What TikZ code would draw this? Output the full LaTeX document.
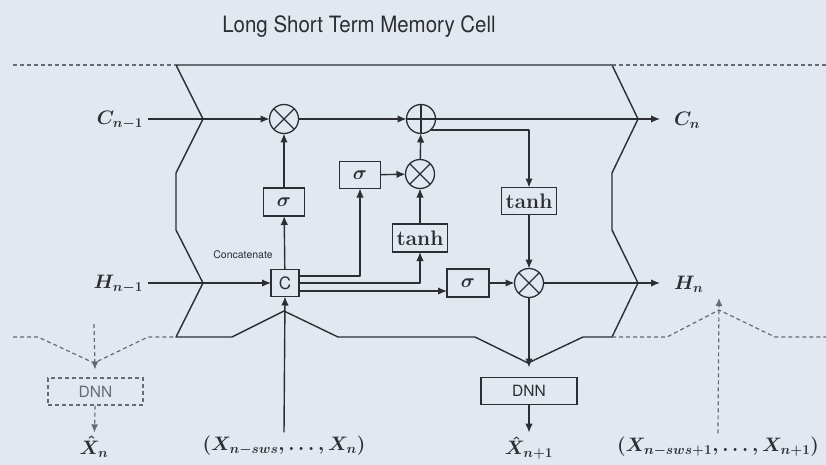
\RequirePackage{fix-cm}
\documentclass[tikz,border=0pt]{standalone}
\usepackage{amsmath}
\usepackage{fontspec}
\setsansfont{TeX Gyre Heros}
\usetikzlibrary{arrows.meta,calc}
\definecolor{bg}{RGB}{226,232,240}
\definecolor{ink}{RGB}{45,45,52}
\definecolor{dashink}{RGB}{105,105,114}
\newcommand\mymathfont{\fontsize{19.5}{23}\selectfont\boldmath}
\newcommand\mytanhfont{\fontsize{21}{24}\selectfont\boldmath}
\begin{document}
\begin{tikzpicture}[x=1pt,y=-1pt,
  wire/.style={draw=ink, line width=1.4pt, line join=round},
  arr/.style={wire, -{Latex[length=9pt,width=7.5pt]}},
  dsh/.style={draw=dashink, line width=1.2pt, dash pattern=on 4pt off 3pt},
  darr/.style={dsh, -{Latex[length=8pt,width=7pt]}},
  opnode/.style={circle, draw=ink, line width=1.3pt, minimum size=29pt, inner sep=0pt, outer sep=0pt},
  fbox/.style={rectangle, draw=ink, line width=1.3pt, inner sep=0pt, outer sep=0pt, text=ink, font=\mymathfont},
  lbl/.style={inner sep=0pt, outer sep=5pt, text=ink, font=\mymathfont},
  blbl/.style={inner sep=0pt, outer sep=4pt, text=ink, font=\mymathfont}]
\fill[bg] (0,0) rectangle (826,465);
\useasboundingbox (0,0) rectangle (826,465);

% title
\node[text=ink, font=\sffamily\fontsize{22.5}{26}\selectfont, xscale=0.91, transform shape] (title) at (359,27) {Long Short Term Memory Cell};

% cell outline
\draw[wire] (176,65) -- (612,65) -- (638,119) -- (612,173) -- (612,230) -- (638,283) -- (612,337)
  -- (583,337) -- (528,363) -- (475,337) -- (338,337) -- (284,311) -- (232,337) -- (176,337)
  -- (203,283) -- (176,230) -- (176,173) -- (203,119) -- cycle;

% dashed neighbours
\draw[dsh] (13,65) -- (176,65);
\draw[dsh] (612,65) -- (826,65);
\draw[dsh] (13,337) -- (38,337) -- (94,363) -- (148,337) -- (176,337);
\draw[dsh] (612,337) -- (667,337) -- (719,310) -- (775,337) -- (826,337);

% operators
\node[opnode] (m1) at (284,119) {};
\node[opnode] (p1) at (421,119) {};
\node[opnode] (m2) at (420,174) {};
\node[opnode] (m3) at (529,283) {};
\foreach \n in {m1,m2,m3}{
  \draw[wire, line width=1.2pt] (\n.north east) -- (\n.south west) (\n.north west) -- (\n.south east);
}
\draw[wire, line width=1.2pt] (p1.north) -- (p1.south) (p1.west) -- (p1.east);

% gate boxes
\node[fbox, minimum width=41pt, minimum height=28pt] (s1) at (284,202) {$\sigma$};
\node[fbox, minimum width=41pt, minimum height=27pt] (s2) at (360,175) {$\sigma$};
\node[fbox, minimum width=42pt, minimum height=28pt] (s3) at (468,283) {$\sigma$};
\node[fbox, minimum width=55pt, minimum height=28pt, font=\mytanhfont] (t1) at (420,238) {$\mathbf{tanh}$};
\node[fbox, minimum width=55pt, minimum height=27pt, font=\mytanhfont] (t2) at (529,201) {$\mathbf{tanh}$};
\node[fbox, minimum width=28pt, minimum height=27pt, font=\sffamily\fontsize{17}{20}\selectfont] (cbox) at (285,283) {C};
\node[text=ink, font=\sffamily\fontsize{10.5}{12}\selectfont] (concat) at (243,255) {Concatenate};

% DNN boxes
\node[fbox, minimum width=96pt, minimum height=27pt, font=\sffamily\fontsize{15.5}{18}\selectfont] (dnn1) at (529,391) {DNN};
\node[rectangle, draw=dashink, line width=1.1pt, dash pattern=on 4pt off 3pt, text=dashink, inner sep=0pt,
  minimum width=95pt, minimum height=27pt, font=\sffamily\fontsize{15.5}{18}\selectfont] (dnn0) at (95.5,391.5) {DNN};

% labels
\node[lbl, anchor=east] (Cin) at (148,120) {$C_{n-1}$};
\node[lbl, anchor=east] (Hin) at (148,284) {$H_{n-1}$};
\node[lbl, outer sep=14pt, anchor=west] (Cout) at (660,120) {$C_n$};
\node[lbl, outer sep=14pt, anchor=west] (Hout) at (660,284) {$H_n$};
\node[blbl] (Xh0) at (94,447) {$\hat{X}_n$};
\node[blbl] (Xh1) at (529,448) {$\hat{X}_{n+1}$};
\node[blbl] (in1) at (284,446) {$(X_{n-sws},\dots,X_n)$};
\node[blbl] (in2) at (718,447) {$(X_{n-sws+1},\dots,X_{n+1})$};
\coordinate (hup) at (719,298);
\coordinate (hdown) at (94,324);

% cell state path
\draw[arr] (Cin.east |- m1) -- (m1);
\draw[arr] (m1) -- (p1);
\draw[arr] (p1) -- (Cout.west |- p1);
\draw[arr] (p1.-49) -| (t2);
\draw[arr] (t2) -- (m3);

% gates
\draw[arr] (s1) -- (m1);
\draw[arr] (s2) -- (m2);
\draw[arr] (t1) -- (m2);
\draw[arr] (m2) -- (p1);
\draw[arr] (cbox) -- (s1);
\draw[arr] ($(cbox.east)+(0,-7)$) -| (s2);
\draw[arr] (cbox.east) -| (t1);
\draw[arr] ($(cbox.east)+(0,8)$) -- ($(s3.west)+(0,8)$);
\draw[arr] (s3) -- (m3);

% hidden state path
\draw[arr] (Hin.east |- cbox) -- (cbox);
\draw[arr] (m3) -- (Hout.west |- m3);
\draw[arr] (in1.north) -- (cbox.south);
\draw[arr, shorten >=10pt] (m3) -- (dnn1);
\draw[arr] (dnn1) -- (Xh1);

% dashed neighbour connections
\draw[darr] (in2.north) -- (hup);
\draw[darr, shorten >=8pt] (hdown) -- (dnn0);
\draw[darr] (dnn0) -- (Xh0);
\end{tikzpicture}
\end{document}
